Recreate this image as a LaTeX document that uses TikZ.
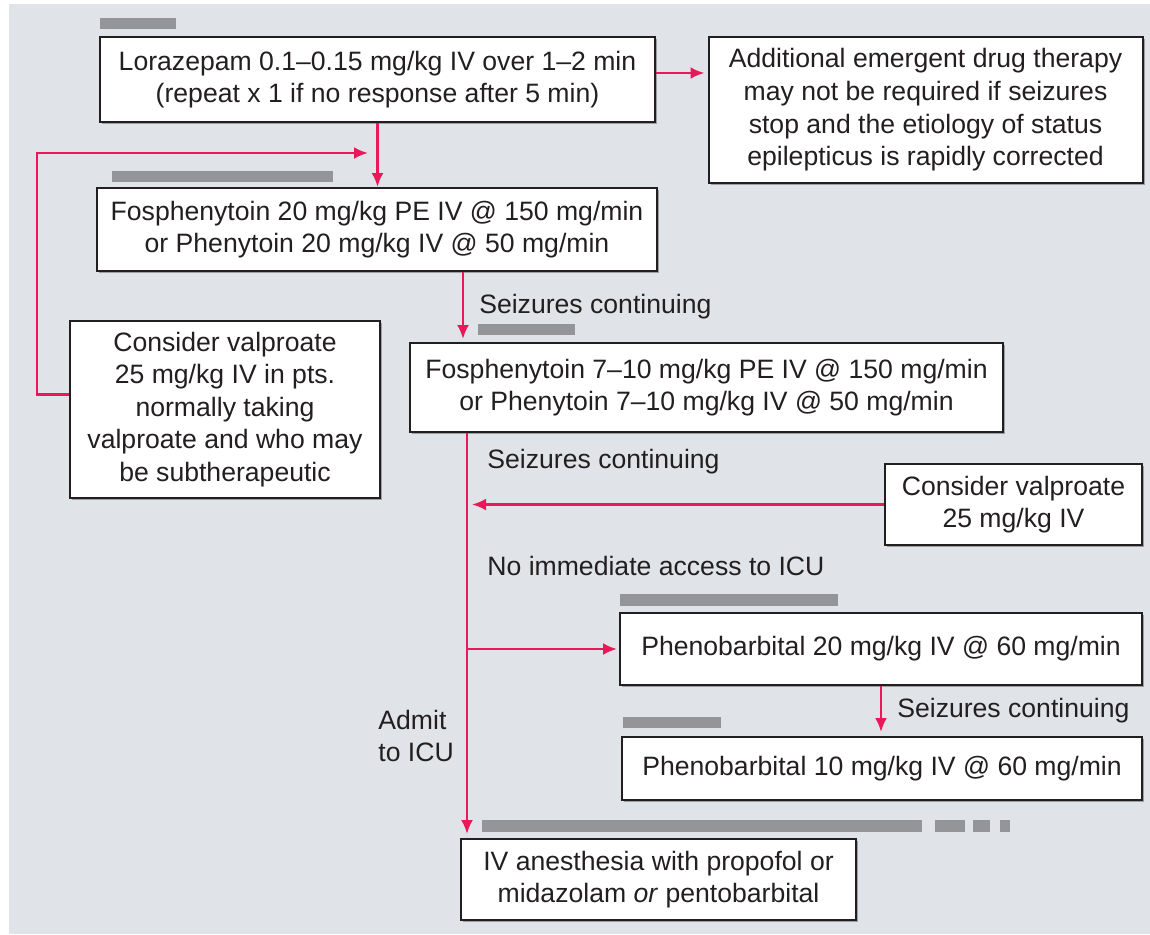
\documentclass[tikz,border=0pt]{standalone}
\usepackage{fontspec}
\setmainfont{Liberation Sans}
\usetikzlibrary{arrows.meta,shadows}
\definecolor{bggray}{RGB}{224,228,232}
\definecolor{bargray}{RGB}{147,149,152}
\definecolor{flowred}{RGB}{234,24,88}
\definecolor{inkgray}{RGB}{35,31,32}
\tikzset{
  box/.style={draw=inkgray, line width=1pt, fill=white, align=center, inner sep=0pt, text=inkgray,
    drop shadow={shadow xshift=1pt, shadow yshift=-1pt, fill=black, opacity=0.3}},
  lbl/.style={inner sep=0pt, align=left, text=inkgray},
  arr/.style={draw=flowred, line width=1.3pt, -{Latex[length=7pt,width=6pt]}},
  bar/.style={fill=bargray}
}

\begin{document}
\begin{tikzpicture}[x=0.5pt,y=-0.5pt,font=\fontsize{13.3}{16.3}\selectfont]
           \useasboundingbox (0,0) rectangle (1150,934);
           \fill[bggray] (9,4) rectangle (1150,934);
           \fill[bar] (100,18) rectangle (176,29);
           \fill[bar] (112,171) rectangle (333,182);
           \fill[bar] (478,324) rectangle (575,335);
           \fill[bar] (620,594) rectangle (838,606);
           \fill[bar] (623,717) rectangle (721,728);
           \fill[bar] (482,820) rectangle (922,832);
           \fill[bar] (935,820) rectangle (965,832);
           \fill[bar] (973,820) rectangle (990,832);
           \fill[bar] (1000,820) rectangle (1010,832);

           \node[box, minimum width=277.5pt, minimum height=42.5pt] (lor) at (377.5,79.5)
                {Lorazepam 0.1–0.15 mg/kg IV over 1–2 min\\(repeat x 1 if no response after 5 min)};
           \node[box, minimum width=217pt, minimum height=73pt] (add) at (925.5,110)
                {Additional emergent drug therapy\\may not be required if seizures\\stop and the etiology of status\\epilepticus is rapidly corrected};
           \node[box, minimum width=280pt, minimum height=41.5pt] (fos1) at (377,229.5)
                {Fosphenytoin 20 mg/kg PE IV @ 150 mg/min\\or Phenytoin 20 mg/kg IV @ 50 mg/min};
           \node[box, minimum width=155pt, minimum height=88.5pt] (valL) at (225,409.5)
                {Consider valproate\\25 mg/kg IV in pts.\\normally taking\\valproate and who may\\be subtherapeutic};
           \node[box, minimum width=296.5pt, minimum height=44.5pt] (fos2) at (706.5,387.5)
                {Fosphenytoin 7–10 mg/kg PE IV @ 150 mg/min\\or Phenytoin 7–10 mg/kg IV @ 50 mg/min};
           \node[box, minimum width=128.5pt, minimum height=40.5pt] (valR) at (1013.5,504.5)
                {Consider valproate\\25 mg/kg IV};
           \node[box, minimum width=261pt, minimum height=36pt] (phb1) at (881,649)
                {Phenobarbital 20 mg/kg IV @ 60 mg/min};
           \node[box, minimum width=260pt, minimum height=31.5pt] (phb2) at (882,768.5)
                {Phenobarbital 10 mg/kg IV @ 60 mg/min};
           \node[box, minimum width=197.5pt, minimum height=40.5pt] (anes) at (658.5,879.5)
                {IV anesthesia with propofol or\\midazolam \textit{or} pentobarbital};

           \node[lbl, anchor=west] (sc2) at (487,462) {Seizures continuing};
           \node[lbl, anchor=west] (noicu) at (487,566) {No immediate access to ICU};
           \node[lbl, anchor=west] (admit) at (378,736) {Admit\\to ICU};

           \coordinate (lorout) at ([yshift=3.25pt]lor.east);
           \coordinate (valout) at ([yshift=7.5pt]valL.west);
           \coordinate (loopin) at (368,153);
           \coordinate (fosout) at ([xshift=43pt]fos1.south);
           \coordinate (spine) at ([xshift=-119.75pt]fos2.south);

           \draw[arr, shorten >=1.5pt] (lorout) -- (lorout -| add.west);
           \draw[arr] (lor.south) -- (lor.south |- fos1.north);
           \draw[arr] (valout) -- ++(-32,0) |- (loopin);
           \draw[arr, shorten >=1.5pt] (fosout) -- (fosout |- fos2.north)
                node[midway, lbl, right=7.5pt] {Seizures continuing};
           \draw[arr, shorten >=2pt] (spine) -- (spine |- anes.north);
           \draw[arr, shorten >=2.5pt] (valR.west) -- (valR.west -| spine);
           \draw[arr, shorten >=1pt] (phb1.west -| spine) -- (phb1.west);
           \draw[arr, shorten >=2pt] (phb1.south) -- (phb1.south |- phb2.north)
                node[midway, lbl, right=7.5pt] {Seizures continuing};
        \end{tikzpicture}
\end{document}
